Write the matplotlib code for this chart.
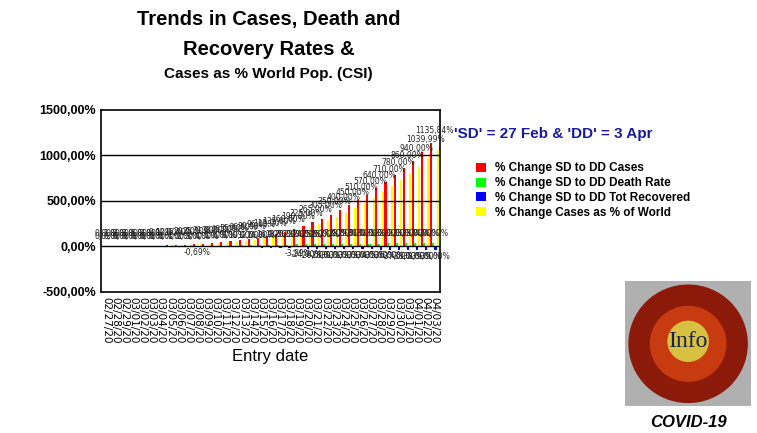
import matplotlib
matplotlib.use("Agg")
import matplotlib.pyplot as plt
import numpy as np
import datetime as dt
from matplotlib.patches import Circle, Rectangle

dates = [dt.date(2020,2,27)+dt.timedelta(days=i) for i in range(37)]
labels = [d.strftime("%m/%d/%y") for d in dates]
cases = [0,1,2,3,5,7,9,12,16,20,25,31,38,46,55,66,80,96,115,135,160,190,225,265,305,350,400,450,510,570,640,710,780,860,940,1039.99,1135.84]
world = [v*0.93 for v in cases]
death = [0,0,0,0,0,0,0,0,1,2,3,4,5,6,8,10,12,14,16,18,20,22,24,25,26,27,28,29,30,30,31,32,32,33,33,34,34]
recov = [-1,-1,-2,-2,-3,-3,-4,-4,-5,-6,-0.69,-7,-8,-9,-10,-11,-12,-14,-16,-18,-20,-3.99,-24,-26,-28,-30,-31,-32,-33,-34,-35,-36,-37,-38,-38,-39,-39]

fig = plt.figure(figsize=(7.57,4.33), dpi=100)
ax = fig.add_axes([0.133, 0.326, 0.448, 0.42])
x = np.arange(len(dates))
w = 0.24
ax.bar(x-1.5*w, cases, w, color="#ff0000", label="% Change SD to DD Cases")
ax.bar(x-0.5*w, death, w, color="#00ff00", label="% Change SD to DD Death Rate")
ax.bar(x+0.5*w, recov, w, color="#0000ff", label="% Change SD to DD Tot Recovered")
ax.bar(x+1.5*w, world, w, color="#ffff00", label="% Change Cases as % of World")
for i in range(len(x)):
    ax.text(x[i], cases[i]+90, f"{cases[i]:.2f}%".replace(".",","), fontsize=5.5, ha="center", va="bottom", color="#222")
    ax.text(x[i], death[i]+60, f"{death[i]:.2f}%".replace(".",","), fontsize=5.5, ha="center", va="bottom", color="#222")
    if i in (10,) or i >= 21:
        ax.text(x[i], recov[i]-20, f"{recov[i]:.2f}%".replace(".",","), fontsize=5.5, ha="center", va="top", color="#222")
ax.set_ylim(-500,1500)
ax.set_xlim(-0.6, len(x)-0.4)
ax.set_yticks([-500,0,500,1000,1500])
ax.set_yticklabels(["-500,00%","0,00%","500,00%","1000,00%","1500,00%"], fontsize=9, fontweight="bold", family="Liberation Sans")
for y in (0,500,1000):
    ax.axhline(y, color="black", lw=1)
ax.set_xticks(x)
ax.set_xticklabels(labels, rotation=270, fontsize=7.5)
ax.tick_params(length=0)
ax.set_xlabel("Entry date", fontsize=12, family="Liberation Sans")
for s in ax.spines.values(): s.set_linewidth(1.2)

fig.text(0.355, 0.955, "Trends in Cases, Death and", ha="center", va="center", fontsize=14.5, fontweight="bold", family="Liberation Sans")
fig.text(0.355, 0.885, "Recovery Rates &", ha="center", va="center", fontsize=14.5, fontweight="bold", family="Liberation Sans")
fig.text(0.355, 0.828, "Cases as % World Pop. (CSI)", ha="center", va="center", fontsize=11, fontweight="bold", family="Liberation Sans")

fig.text(0.6, 0.69, "'SD' = 27 Feb & 'DD' = 3 Apr", fontsize=11, fontweight="bold", color="#1a1aa0", family="Liberation Sans", va="center")
h, l = ax.get_legend_handles_labels()
fig.legend(h, l, loc="upper left", bbox_to_anchor=(0.615, 0.65), frameon=False,
           prop={"family":"Liberation Sans","weight":"bold","size":8.5}, handlelength=0.8, handleheight=0.8, labelspacing=0.25)

lax = fig.add_axes([0.826, 0.062, 0.166, 0.288])
lax.set_xlim(0,1); lax.set_ylim(0,1); lax.axis("off")
lax.add_patch(Rectangle((0,0),1,1,color="#b0b0b0"))
lax.add_patch(Circle((0.5,0.5),0.47,color="#8b1a0a"))
lax.add_patch(Circle((0.5,0.5),0.3,color="#c83a10"))
lax.add_patch(Circle((0.5,0.52),0.16,color="#d8c040"))
lax.text(0.5,0.52,"Info",ha="center",va="center",fontsize=17,color="#1a2050",family="Liberation Serif")
fig.text(0.909, 0.015, "COVID-19", ha="center", fontsize=12, fontweight="bold", style="italic", family="Liberation Sans")
fig.savefig("out.png", dpi=100)
